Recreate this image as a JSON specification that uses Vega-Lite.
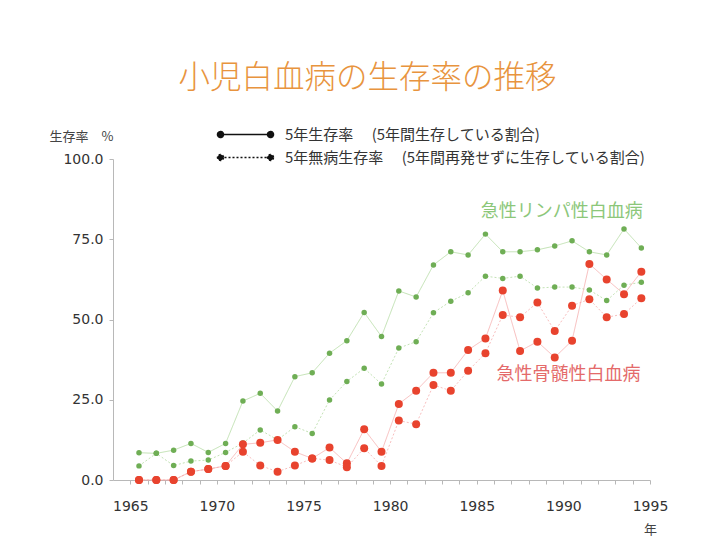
{
"$schema": "https://vega.github.io/schema/vega-lite/v6.json",
"autosize": {"type": "none"},
"padding": {"left": 113, "top": 159, "right": 62, "bottom": 74},
"width": 537,
"height": 321,
"background": "white",
"config": {"view": {"stroke": null}, "font": "Noto Sans CJK JP"},
"title": {"text": "小児白血病の生存率の推移", "font": "Noto Sans CJK JP", "fontSize": 31.5, "fontWeight": 300, "color": "#e8943e", "anchor": "middle", "dx": -14, "offset": 33},
"datasets": {
"series": [
{"year":1965,"disease":"ALL","measure":"OS","value":8.5},{"year":1966,"disease":"ALL","measure":"OS","value":8.3},{"year":1967,"disease":"ALL","measure":"OS","value":9.3},{"year":1968,"disease":"ALL","measure":"OS","value":11.4},{"year":1969,"disease":"ALL","measure":"OS","value":8.6},{"year":1970,"disease":"ALL","measure":"OS","value":11.4},{"year":1971,"disease":"ALL","measure":"OS","value":24.6},{"year":1972,"disease":"ALL","measure":"OS","value":27.0},{"year":1973,"disease":"ALL","measure":"OS","value":21.5},{"year":1974,"disease":"ALL","measure":"OS","value":32.2},{"year":1975,"disease":"ALL","measure":"OS","value":33.4},{"year":1976,"disease":"ALL","measure":"OS","value":39.5},{"year":1977,"disease":"ALL","measure":"OS","value":43.4},{"year":1978,"disease":"ALL","measure":"OS","value":52.2},{"year":1979,"disease":"ALL","measure":"OS","value":44.7},{"year":1980,"disease":"ALL","measure":"OS","value":58.9},{"year":1981,"disease":"ALL","measure":"OS","value":57.0},{"year":1982,"disease":"ALL","measure":"OS","value":67.0},{"year":1983,"disease":"ALL","measure":"OS","value":71.1},{"year":1984,"disease":"ALL","measure":"OS","value":70.1},{"year":1985,"disease":"ALL","measure":"OS","value":76.6},{"year":1986,"disease":"ALL","measure":"OS","value":71.1},{"year":1987,"disease":"ALL","measure":"OS","value":71.1},{"year":1988,"disease":"ALL","measure":"OS","value":71.7},{"year":1989,"disease":"ALL","measure":"OS","value":72.9},{"year":1990,"disease":"ALL","measure":"OS","value":74.5},{"year":1991,"disease":"ALL","measure":"OS","value":71.1},{"year":1992,"disease":"ALL","measure":"OS","value":70.1},{"year":1993,"disease":"ALL","measure":"OS","value":78.2},{"year":1994,"disease":"ALL","measure":"OS","value":72.3},
{"year":1965,"disease":"ALL","measure":"DFS","value":4.4},{"year":1966,"disease":"ALL","measure":"DFS","value":8.3},{"year":1967,"disease":"ALL","measure":"DFS","value":4.5},{"year":1968,"disease":"ALL","measure":"DFS","value":5.9},{"year":1969,"disease":"ALL","measure":"DFS","value":6.2},{"year":1970,"disease":"ALL","measure":"DFS","value":8.6},{"year":1971,"disease":"ALL","measure":"DFS","value":11.5},{"year":1972,"disease":"ALL","measure":"DFS","value":15.6},{"year":1973,"disease":"ALL","measure":"DFS","value":12.5},{"year":1974,"disease":"ALL","measure":"DFS","value":16.6},{"year":1975,"disease":"ALL","measure":"DFS","value":14.5},{"year":1976,"disease":"ALL","measure":"DFS","value":24.9},{"year":1977,"disease":"ALL","measure":"DFS","value":30.7},{"year":1978,"disease":"ALL","measure":"DFS","value":34.8},{"year":1979,"disease":"ALL","measure":"DFS","value":29.9},{"year":1980,"disease":"ALL","measure":"DFS","value":41.1},{"year":1981,"disease":"ALL","measure":"DFS","value":43.1},{"year":1982,"disease":"ALL","measure":"DFS","value":52.1},{"year":1983,"disease":"ALL","measure":"DFS","value":55.7},{"year":1984,"disease":"ALL","measure":"DFS","value":58.3},{"year":1985,"disease":"ALL","measure":"DFS","value":63.5},{"year":1986,"disease":"ALL","measure":"DFS","value":62.8},{"year":1987,"disease":"ALL","measure":"DFS","value":63.5},{"year":1988,"disease":"ALL","measure":"DFS","value":59.8},{"year":1989,"disease":"ALL","measure":"DFS","value":60.1},{"year":1990,"disease":"ALL","measure":"DFS","value":60.1},{"year":1991,"disease":"ALL","measure":"DFS","value":59.2},{"year":1992,"disease":"ALL","measure":"DFS","value":55.9},{"year":1993,"disease":"ALL","measure":"DFS","value":60.7},{"year":1994,"disease":"ALL","measure":"DFS","value":61.6},
{"year":1965,"disease":"AML","measure":"OS","value":0},{"year":1966,"disease":"AML","measure":"OS","value":0},{"year":1967,"disease":"AML","measure":"OS","value":0},{"year":1968,"disease":"AML","measure":"OS","value":2.6},{"year":1969,"disease":"AML","measure":"OS","value":3.4},{"year":1970,"disease":"AML","measure":"OS","value":4.4},{"year":1971,"disease":"AML","measure":"OS","value":11.1},{"year":1972,"disease":"AML","measure":"OS","value":11.6},{"year":1973,"disease":"AML","measure":"OS","value":12.5},{"year":1974,"disease":"AML","measure":"OS","value":8.8},{"year":1975,"disease":"AML","measure":"OS","value":6.7},{"year":1976,"disease":"AML","measure":"OS","value":10.1},{"year":1977,"disease":"AML","measure":"OS","value":5.2},{"year":1978,"disease":"AML","measure":"OS","value":15.8},{"year":1979,"disease":"AML","measure":"OS","value":8.8},{"year":1980,"disease":"AML","measure":"OS","value":23.7},{"year":1981,"disease":"AML","measure":"OS","value":27.8},{"year":1982,"disease":"AML","measure":"OS","value":33.4},{"year":1983,"disease":"AML","measure":"OS","value":33.4},{"year":1984,"disease":"AML","measure":"OS","value":40.5},{"year":1985,"disease":"AML","measure":"OS","value":44.1},{"year":1986,"disease":"AML","measure":"OS","value":59.0},{"year":1987,"disease":"AML","measure":"OS","value":40.2},{"year":1988,"disease":"AML","measure":"OS","value":43.1},{"year":1989,"disease":"AML","measure":"OS","value":38.2},{"year":1990,"disease":"AML","measure":"OS","value":43.4},{"year":1991,"disease":"AML","measure":"OS","value":67.3},{"year":1992,"disease":"AML","measure":"OS","value":62.5},{"year":1993,"disease":"AML","measure":"OS","value":57.9},{"year":1994,"disease":"AML","measure":"OS","value":64.9},
{"year":1965,"disease":"AML","measure":"DFS","value":0},{"year":1966,"disease":"AML","measure":"DFS","value":0},{"year":1967,"disease":"AML","measure":"DFS","value":0},{"year":1968,"disease":"AML","measure":"DFS","value":2.6},{"year":1969,"disease":"AML","measure":"DFS","value":3.4},{"year":1970,"disease":"AML","measure":"DFS","value":4.4},{"year":1971,"disease":"AML","measure":"DFS","value":8.8},{"year":1972,"disease":"AML","measure":"DFS","value":4.5},{"year":1973,"disease":"AML","measure":"DFS","value":2.6},{"year":1974,"disease":"AML","measure":"DFS","value":4.5},{"year":1975,"disease":"AML","measure":"DFS","value":6.7},{"year":1976,"disease":"AML","measure":"DFS","value":6.2},{"year":1977,"disease":"AML","measure":"DFS","value":4.0},{"year":1978,"disease":"AML","measure":"DFS","value":9.9},{"year":1979,"disease":"AML","measure":"DFS","value":4.4},{"year":1980,"disease":"AML","measure":"DFS","value":18.5},{"year":1981,"disease":"AML","measure":"DFS","value":17.4},{"year":1982,"disease":"AML","measure":"DFS","value":29.6},{"year":1983,"disease":"AML","measure":"DFS","value":27.8},{"year":1984,"disease":"AML","measure":"DFS","value":34.0},{"year":1985,"disease":"AML","measure":"DFS","value":39.5},{"year":1986,"disease":"AML","measure":"DFS","value":51.4},{"year":1987,"disease":"AML","measure":"DFS","value":50.7},{"year":1988,"disease":"AML","measure":"DFS","value":55.3},{"year":1989,"disease":"AML","measure":"DFS","value":46.4},{"year":1990,"disease":"AML","measure":"DFS","value":54.3},{"year":1991,"disease":"AML","measure":"DFS","value":56.3},{"year":1992,"disease":"AML","measure":"DFS","value":50.7},{"year":1993,"disease":"AML","measure":"DFS","value":51.7},{"year":1994,"disease":"AML","measure":"DFS","value":56.6}
],
"labels": [
{"disease":"ALL","label":"急性リンパ性白血病","year":1989.4,"value":83.6},
{"disease":"AML","label":"急性骨髄性白血病","year":1989.8,"value":32.7}
]
},
"encoding": {
"x": {"field": "year", "type": "quantitative", "scale": {"domain": [1963.5, 1994.5], "nice": false, "zero": false},
 "axis": {"values": [1964.5,1965.5,1966.5,1967.5,1968.5,1969.5,1970.5,1971.5,1972.5,1973.5,1974.5,1975.5,1976.5,1977.5,1978.5,1979.5,1980.5,1981.5,1982.5,1983.5,1984.5,1985.5,1986.5,1987.5,1988.5,1989.5,1990.5,1991.5,1992.5,1993.5,1994.5],
  "labelExpr": "(datum.value + 0.5) % 5 == 0 ? format(datum.value + 0.5, 'd') : ''",
  "labelOverlap": false, "labelFlush": false, "grid": false,
  "domainColor": "#b8b8b8", "tickColor": "#b8b8b8", "tickSize": 4, "labelPadding": 15,
  "labelFont": "DejaVu Sans", "labelFontSize": 14, "labelColor": "#333333",
  "title": "年", "titleFont": "Noto Sans CJK JP", "titleFontSize": 13, "titleFontWeight": "normal", "titleColor": "#444444",
  "titleX": 537, "titleY": 49, "titleAlign": "center", "titleBaseline": "middle"}},
"y": {"field": "value", "type": "quantitative", "scale": {"domain": [0, 100], "nice": false},
 "axis": {"values": [0, 25, 50, 75, 100], "format": ".1f", "grid": false,
  "domainColor": "#b8b8b8", "tickColor": "#b8b8b8", "tickSize": 4, "labelPadding": 6,
  "labelFont": "DejaVu Sans", "labelFontSize": 14, "labelColor": "#333333",
  "title": "生存率　%", "titleFont": "Noto Sans CJK JP", "titleFontSize": 13, "titleFontWeight": "normal", "titleColor": "#444444",
  "titleAngle": 0, "titleX": -32, "titleY": -23, "titleAlign": "center", "titleBaseline": "middle"}}
},
"layer": [
{"data": {"name": "series"},
 "mark": {"type": "line", "strokeWidth": 1, "opacity": 0.7},
 "encoding": {
  "color": {"field": "disease", "type": "nominal", "scale": {"domain": ["ALL", "AML"], "range": ["#a9d596", "#f4a3a3"]}, "legend": null},
  "strokeDash": {"field": "measure", "type": "nominal", "scale": {"domain": ["OS", "DFS"], "range": [[1, 0], [2, 2]]},
   "legend": {"orient": "none", "legendX": 125, "legendY": -32, "title": null,
    "symbolType": "M-5,0L5,0M-4.4,0A0.6,0.6,0,1,1,-5.6,0A0.6,0.6,0,1,1,-4.4,0ZM5.6,0A0.6,0.6,0,1,1,4.4,0A0.6,0.6,0,1,1,5.6,0Z",
    "symbolSize": 100, "symbolStrokeColor": "#111111", "symbolFillColor": "#111111", "symbolStrokeWidth": 1.5, "symbolOpacity": 1,
    "labelExpr": "datum.label == 'OS' ? '5年生存率　 (5年間生存している割合)' : '5年無病生存率　 (5年間再発せずに生存している割合)'",
    "labelFont": "Noto Sans CJK JP", "labelFontSize": 15, "labelColor": "#333333", "labelOffset": 32, "labelLimit": 500, "rowPadding": 7}}
 }},
{"data": {"name": "series"},
 "mark": {"type": "point", "filled": true, "opacity": 1},
 "encoding": {
  "color": {"field": "disease", "type": "nominal", "scale": {"domain": ["ALL", "AML"], "range": ["#6fae55", "#e8432e"]}, "legend": null},
  "size": {"field": "disease", "type": "nominal", "scale": {"domain": ["ALL", "AML"], "range": [30, 64]}, "legend": null}
 }},
{"data": {"name": "labels"},
 "mark": {"type": "text", "fontSize": 18, "font": "Noto Sans CJK JP", "align": "center", "baseline": "middle"},
 "encoding": {
  "text": {"field": "label"},
  "color": {"field": "disease", "type": "nominal", "scale": {"domain": ["ALL", "AML"], "range": ["#8cc77a", "#e46a6a"]}, "legend": null}
 }}
],
"resolve": {"scale": {"color": "independent", "size": "independent"}}
}
